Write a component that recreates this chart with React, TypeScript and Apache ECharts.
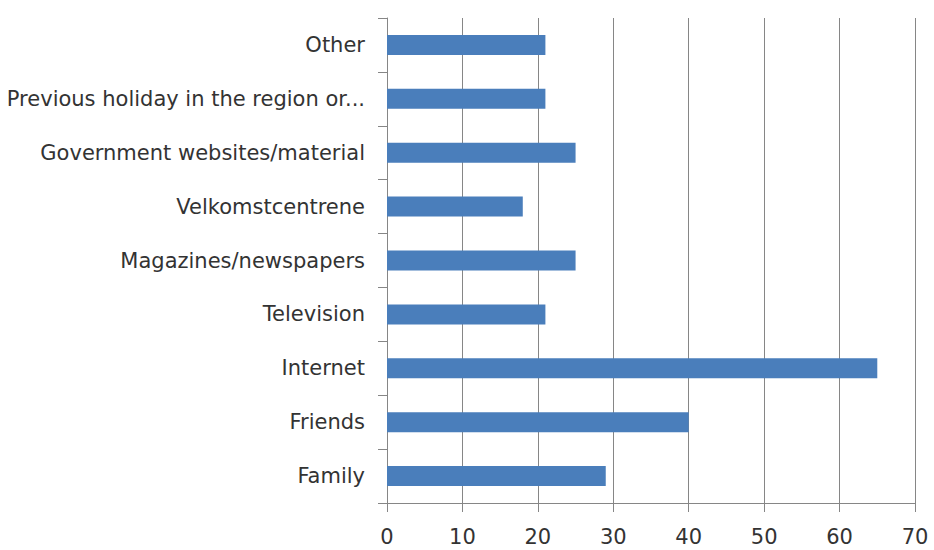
import React, { useEffect, useRef } from "react";
import * as echarts from "echarts";

const categories = [
  "Family",
  "Friends",
  "Internet",
  "Television",
  "Magazines/newspapers",
  "Velkomstcentrene",
  "Government websites/material",
  "Previous holiday in the region or...",
  "Other",
];
const values = [29, 40, 65, 21, 25, 18, 25, 21, 21];
const xTicks = { min: 0, max: 70, interval: 10 };

export default function App() {
  const ref = useRef<HTMLDivElement>(null);
  useEffect(() => {
    if (!ref.current) return;
    const chart = echarts.init(ref.current, null, { renderer: "svg" });
    const axisColor = "#868686";
    const font = "DejaVu Sans";
    chart.setOption({
      animation: false,
      backgroundColor: "#ffffff",
      grid: { left: 387, right: 19, top: 18, bottom: 47, containLabel: false },
      xAxis: {
        type: "value",
        min: xTicks.min,
        max: xTicks.max,
        interval: xTicks.interval,
        axisLine: { show: true, lineStyle: { color: axisColor, width: 1 } },
        axisTick: { show: true, length: 9, lineStyle: { color: axisColor } },
        splitLine: { show: true, lineStyle: { color: axisColor, width: 1 } },
        axisLabel: { color: "#333333", fontFamily: font, fontSize: 21, margin: 23 },
      },
      yAxis: {
        type: "category",
        data: categories,
        axisLine: { show: true, lineStyle: { color: axisColor, width: 1 } },
        axisTick: { show: true, length: 9, lineStyle: { color: axisColor } },
        splitLine: { show: false },
        axisLabel: { color: "#333333", fontFamily: font, fontSize: 21, margin: 22 },
      },
      series: [
        {
          type: "bar",
          data: values,
          barWidth: 20,
          itemStyle: { color: "#4a7ebb" },
        },
      ],
    });
    return () => chart.dispose();
  }, []);
  return (
    <div
      ref={ref}
      style={{ position: "fixed", left: 0, top: 0, width: 934, height: 550, background: "#fff" }}
    />
  );
}
